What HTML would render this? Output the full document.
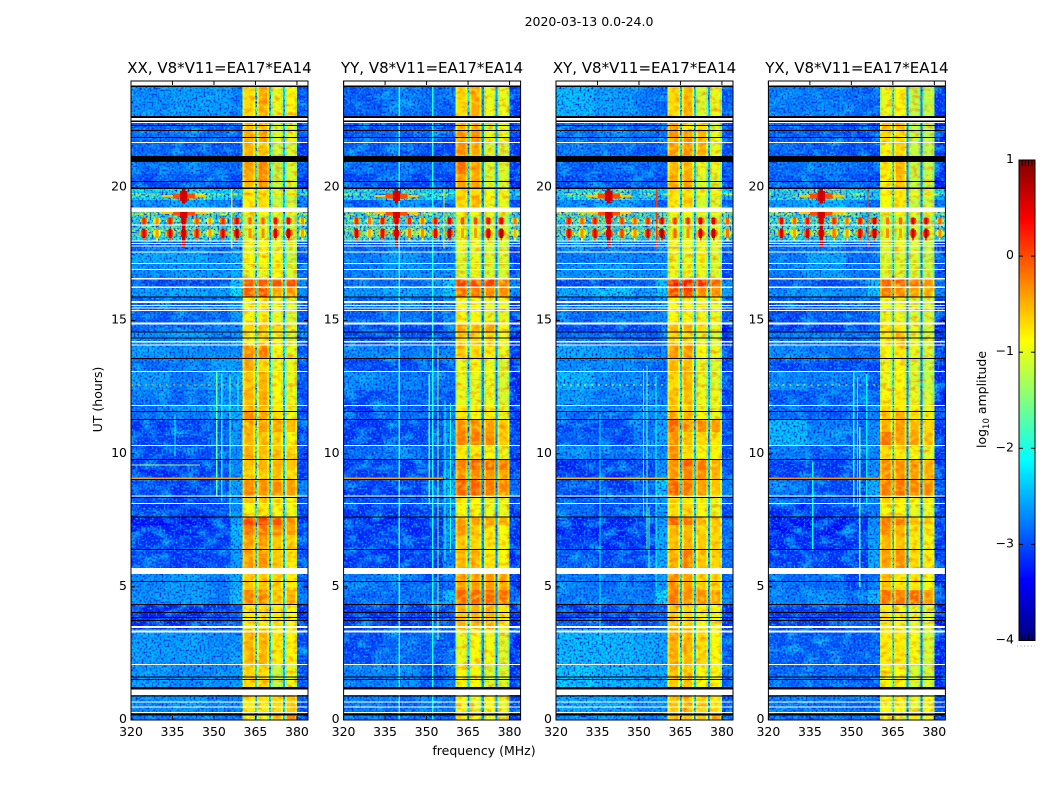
<!DOCTYPE html>
<html lang="en">
<head>
<meta charset="utf-8">
<title>2020-03-13 0.0-24.0</title>
<style>
html,body{margin:0;padding:0;background:#fff;}
svg{display:block;font-family:"DejaVu Sans","Liberation Sans",sans-serif;fill:#000;}
</style>
</head>
<body>
<svg id="chart" xmlns="http://www.w3.org/2000/svg" width="1050" height="800" viewBox="0 0 1050 800">
<defs>
<filter id="speckle-bg" x="0" y="0" width="1" height="1" color-interpolation-filters="sRGB">
<feTurbulence type="fractalNoise" baseFrequency="0.5" numOctaves="1" seed="4" result="noise"/>
<feColorMatrix in="noise" type="matrix" values="0 0 0 0 0  0 0 0 0 0.1  0 0 0 0 0.9  3.2 0 0 0 -1.45" result="dark0"/>
<feComposite in="dark0" in2="SourceAlpha" operator="in" result="dark"/>
<feColorMatrix in="noise" type="matrix" values="0 0 0 0 0.05  0 0 0 0 0.7  0 0 0 0 1  0 3.2 0 0 -1.6" result="light0"/>
<feComposite in="light0" in2="SourceAlpha" operator="in" result="light"/>
<feTurbulence type="fractalNoise" baseFrequency="0.07 0.11" numOctaves="2" seed="12" result="mottle"/>
<feColorMatrix in="mottle" type="matrix" values="0 0 0 0 0.05  0 0 0 0 0.75  0 0 0 0 1  2.6 0 0 0 -1.15" result="patch0"/>
<feComposite in="patch0" in2="SourceAlpha" operator="in" result="patch"/>
<feMerge><feMergeNode in="SourceGraphic"/><feMergeNode in="patch"/><feMergeNode in="dark"/><feMergeNode in="light"/></feMerge>
</filter>
<filter id="speckle-band" x="0" y="0" width="1" height="1" color-interpolation-filters="sRGB">
<feTurbulence type="fractalNoise" baseFrequency="0.16 0.24" numOctaves="2" seed="9" result="noise"/>
<feColorMatrix in="noise" type="matrix" values="0 0 0 0 1  0 0 0 0 0.95  0 0 0 0 0.1  1.8 0 0 0 -0.8" result="hi0"/>
<feComposite in="hi0" in2="SourceAlpha" operator="in" result="hi"/>
<feColorMatrix in="noise" type="matrix" values="0 0 0 0 1  0 0 0 0 0.35  0 0 0 0 0  0 1.5 0 0 -0.7" result="lo0"/>
<feComposite in="lo0" in2="SourceAlpha" operator="in" result="lo"/>
<feMerge><feMergeNode in="SourceGraphic"/><feMergeNode in="hi"/><feMergeNode in="lo"/></feMerge>
</filter>
<linearGradient id="colorbar-gradient" x1="0" y1="0" x2="0" y2="1"></linearGradient>
</defs>
<rect x="0" y="0" width="1050" height="800" fill="#fff"/>
<text x="589" y="26" text-anchor="middle" font-size="12.5">2020-03-13 0.0-24.0</text>
<text transform="translate(102,399.5) rotate(-90)" text-anchor="middle" font-size="12.5">UT (hours)</text>
<text x="484" y="755" text-anchor="middle" font-size="12.5">frequency (MHz)</text>
<text transform="translate(986,399.5) rotate(-90)" text-anchor="middle" font-size="12.5">log<tspan dy="3" font-size="8.5">10</tspan><tspan dy="-3"> amplitude</tspan></text>
<g id="panels"></g>
<g id="colorbar"></g>
</svg>
<script>
// ---------- shared axes data ----------
const xTicks = [320, 335, 350, 365, 380];
const yTicks = [0, 5, 10, 15, 20];
const colorbarTicks = [-4, -3, -2, -1, 0, 1];
const panelNames = ['XX', 'YY', 'XY', 'YX'];
const panelTitles = ['XX, V8*V11=EA17*EA14', 'YY, V8*V11=EA17*EA14', 'XY, V8*V11=EA17*EA14', 'YX, V8*V11=EA17*EA14'];

// ---------- heatmap bins (MHz, UT hours) ----------
const columnBins = [[320,334],[334,348],[348,356],[356,360.4],[360.4,364.8],[365.5,369.9],[370.7,375],[375.7,380],[380,384]];
const gapBins = [[364.8,365.5],[369.9,370.7],[375,375.7]];
const rowEdges = [23.77,22.69,22.16,21.67,21.07,20.50,19.94,19.79,19.70,19.53,19.17,18.97,18.61,18.45,18.18,17.97,17.56,17.16,16.56,16.28,15.87,14.91,14.57,14.08,13.56,13.08,12.39,11.79,11.57,11.27,10.82,10.29,9.77,9.39,9.01,8.41,8.11,7.63,7.33,6.95,6.38,5.60,4.88,4.36,3.41,2.10,1.05,0.19,0];

// ---------- log10 amplitude per row / column, one matrix per polarisation ----------
const levelsXX = [
[-2.5,-2.4,-2.4,-2.6,-.7,-.45,-1,-.9,-2.9],
[-2.8,-2.8,-2.8,-2.9,-.55,-.6,-1.1,-1.1,-3],
[-2.7,-2.7,-2.7,-2.8,-.45,-.45,-1.1,-1,-2.9],
[-2.7,-2.8,-2.8,-2.8,-.5,-.6,-1.2,-1.1,-3],
[-2.7,-2.6,-2.7,-2.7,-.35,-.25,-1.2,-1.1,-2.9],
[-2.9,-2.8,-2.8,-2.9,-.5,-.3,-1.2,-1.1,-3],
[-1.9,-1.7,-2,-2.1,-.9,-.8,-1.1,-1,-1.9],
[-1.1,-.9,-1.1,-1.2,-.6,-.6,-.9,-.6,-1],
[-1.8,-1.4,-1.9,-2.2,-.8,-.8,-1.2,-1.2,-2.4],
[-2.7,-2.3,-2.6,-2.8,-.8,-.7,-1.2,-1.2,-2.8],
[-1,-.8,-1.1,-1.2,-.9,-.9,-1,-1,-1.1],
[-1.6,-1.5,-1.6,-1.6,-1.2,-1.2,-1.2,-1.3,-1.7],
[-1.4,-1.3,-1.4,-1.4,-1.1,-1.1,-1.2,-1.2,-1.5],
[-1.3,-1.2,-1.3,-1.3,-1.1,-1,-1.1,-1.1,-1.4],
[-1.7,-1.6,-1.7,-1.6,-1.1,-1.1,-1.2,-1.2,-1.8],
[-2.8,-2.7,-2.7,-2.5,-1,-.9,-1,-1.1,-2.9],
[-2.3,-2.3,-2.5,-2.3,-.9,-.9,-.9,-1.2,-2.9],
[-2.5,-2.4,-2.4,-2.3,-1,-1,-.9,-1.1,-2.8],
[-2.9,-2.9,-2.8,-2.1,-.05,-.05,0,0,-2.5],
[-2.4,-2.3,-2.4,-2,-.05,0,-.4,-.4,-2.5],
[-2.8,-2.7,-2.7,-2.5,-.9,-.8,-1,-1.1,-2.8],
[-2.7,-2.7,-2.6,-2.5,-.7,-.6,-.7,-1,-2.9],
[-2.5,-2.4,-2.5,-2.5,-.9,-.8,-.9,-1.1,-2.8],
[-2.4,-2.5,-2.5,-2.5,-.3,-.2,-.9,-1,-2.8],
[-2.7,-2.6,-2.4,-2.4,-.4,-.7,-1,-1,-2.9],
[-2.4,-2.6,-2.4,-2.3,-.6,-.5,-.9,-1,-2.9],
[-2.6,-2.7,-2.5,-2.4,-.5,-.5,-.9,-1,-2.9],
[-2.7,-2.4,-2.2,-2.3,-.5,-.5,-.8,-1,-2.9],
[-2.7,-2.6,-2.5,-2.3,-.3,-.45,-.7,-.95,-2.9],
[-3,-2.9,-2.8,-2.5,-.45,-.4,-.45,-.5,-3],
[-2.9,-2.9,-2.7,-2.4,-.5,-.6,-.7,-.9,-3],
[-2.9,-2.9,-2.8,-2.5,-.5,-.55,-.6,-.7,-2.9],
[-3,-3,-2.9,-2.5,-.6,-.5,-.5,-.6,-3],
[-3.1,-3,-2.9,-2.5,-.7,-.6,-.6,-.7,-3],
[-2.9,-3,-2.9,-2.4,-.3,-.3,-.3,-.4,-2.6],
[-2.9,-3,-2.8,-2.5,-.6,-.6,-.8,-.9,-2.9],
[-3,-3,-2.9,-2.5,-.9,-.8,-.9,-.95,-2.9],
[-3.2,-3.2,-3,-2.3,.05,.1,0,-.35,-3],
[-3.1,-3.1,-3,-2.2,-.2,-.2,-.3,-.4,-2.9],
[-3,-3,-3,-2.3,-.4,-.4,-.6,-.7,-2.9],
[-2.9,-3,-2.9,-2.4,-.35,-.35,-.6,-.8,-2.9],
[-2.5,-2.4,-2.6,-2.3,-.6,-.6,-.7,-.8,-2.8],
[-2.5,-2.4,-2.6,-2.1,-.25,-.25,-.6,-.5,-2.6],
[-3.1,-3.1,-3,-2.8,-.8,-.8,-.8,-.9,-3.1],
[-2.4,-2.4,-2.5,-2.5,-.5,-.5,-.8,-.85,-2.9],
[-2.4,-2.5,-2.5,-2.4,-.7,-.7,-1.2,-1,-2.8],
[-2.5,-2.4,-2.6,-2.5,-.8,-.8,-.7,-.6,-2.8],
[-2.6,-2.5,-2.6,-2.6,-.9,-.9,-.6,-.3,-2.9]];
const levelsYY = [
[-2.8,-2.6,-2.7,-2.8,-.7,-.45,-1,-1,-3],
[-2.9,-2.9,-2.9,-2.9,-.5,-.5,-1.1,-1,-3],
[-2.8,-2.8,-2.8,-2.9,-.3,-.35,-1,-1,-3],
[-2.8,-2.8,-2.9,-2.9,-.3,-.45,-1.1,-1.1,-3],
[-2.7,-2.7,-2.8,-2.8,-.15,-.4,-1.1,-1.1,-3],
[-2.9,-2.9,-2.9,-2.9,-.4,-.45,-1.1,-1.1,-3.1],
[-1.7,-1.5,-1.9,-2,-.7,-.7,-1,-1,-2.1],
[-1.2,-.9,-1.2,-1.1,-.7,-.7,-.9,-.8,-1.2],
[-1.7,-1.3,-1.8,-2.1,-.6,-.5,-.9,-1,-2.4],
[-2.8,-2.4,-2.6,-2.8,-.7,-.6,-1,-1,-2.9],
[-.9,-.6,-1,-1.1,-.9,-.9,-1,-1,-1.1],
[-1.5,-1.4,-1.6,-1.6,-1.1,-1.2,-1.2,-1.3,-1.7],
[-1.3,-1.3,-1.4,-1.4,-1,-1.1,-1.1,-1.2,-1.4],
[-1.2,-1,-1.3,-1.2,-.9,-.9,-1,-1,-1.3],
[-1.5,-1.4,-1.6,-1.5,-1,-1,-1.1,-1.1,-1.7],
[-2.8,-2.7,-2.8,-2.6,-1,-1,-1.1,-1.1,-3],
[-2.6,-2.4,-2.6,-2.6,-1.1,-1,-1.1,-1.1,-3],
[-2.6,-2.4,-2.5,-2.6,-1.1,-1,-1.1,-1.1,-3],
[-2.7,-2.7,-2.6,-2.1,.1,.1,.1,-.2,-2.5],
[-2.4,-2.3,-2.4,-2.1,-.1,-.2,-.3,-.3,-2.5],
[-2.8,-2.6,-2.8,-2.6,-.9,-.9,-1,-1,-3],
[-2.9,-2.9,-2.9,-2.7,-.4,-.5,-.4,-.9,-3.1],
[-2.9,-2.8,-2.9,-2.8,-.7,-.7,-.7,-.95,-3.1],
[-2.5,-2.6,-2.6,-2.5,-.6,-.7,-.8,-1,-3],
[-2.9,-2.9,-2.9,-2.8,-1,-.9,-1,-1.1,-3.1],
[-2.5,-2.6,-2.7,-2.7,-1,-1,-1,-1.1,-3.1],
[-2.9,-2.8,-2.8,-2.8,-1,-1,-1,-1.1,-3.1],
[-3,-2.7,-2.8,-2.6,-.8,-.9,-.8,-1,-3.1],
[-2.9,-2.7,-2.9,-2.7,-.8,-.9,-.8,-1,-3],
[-3,-2.9,-2.9,-2.5,-.3,-.3,-.4,-.6,-3],
[-3,-2.9,-2.9,-2.4,-.2,-.2,-.3,-.6,-3],
[-2.7,-2.6,-2.8,-2.6,-.8,-.8,-.9,-1,-3],
[-3,-3,-2.9,-2.6,-.2,-.05,-.1,-.2,-3],
[-3,-3,-2.9,-2.5,-.35,-.3,-.35,-.45,-3],
[-3,-3,-2.8,-2.2,-.05,-.05,-.2,-.25,-2.7],
[-2.9,-2.9,-2.8,-2.4,-.8,-.9,-1,-1,-3],
[-3,-3,-2.9,-2.5,-.9,-.9,-1,-1,-3],
[-3.1,-3.1,-3,-2.5,-.4,-.4,-.4,-.5,-3],
[-3,-3.1,-3,-2.3,-.3,-.6,-.8,-.9,-3],
[-3,-3,-3,-2.5,-.6,-.7,-.8,-.9,-3.1],
[-3,-3,-3,-2.6,-.5,-.5,-.8,-.9,-3.1],
[-2.6,-2.7,-2.9,-2.7,-.4,-.4,-.4,-.45,-3],
[-2.7,-2.7,-2.7,-2.2,-.1,-.1,-.1,-.15,-2.7],
[-3,-3,-3,-2.8,-.5,-.5,-.5,-.8,-3.1],
[-2.9,-2.7,-2.8,-2.8,-1,-.9,-.95,-1.1,-3.1],
[-2.6,-2.5,-2.8,-2.7,-.9,-.9,-1.1,-1.1,-3],
[-2.6,-2.7,-2.6,-2.6,-.9,-1,-.9,-1,-3],
[-2.6,-2.7,-2.7,-2.7,-.8,-.9,-1,-1,-3]];
const levelsXY = [
[-2.2,-2.4,-2.6,-2.7,-.7,-.5,-1.1,-1,-2.8],
[-2.7,-2.7,-2.8,-2.9,-.4,-.8,-.7,-1.1,-2.9],
[-2.7,-2.6,-2.7,-2.8,-.35,-.35,-.5,-1,-2.9],
[-2.6,-2.7,-2.8,-2.8,-.4,-.35,-.5,-1,-2.9],
[-2.8,-2.7,-2.7,-2.8,-.5,-.5,-1,-1,-2.9],
[-2.9,-2.8,-2.8,-2.9,-.5,-.4,-1.1,-1.1,-3],
[-1.7,-1.4,-1.8,-2,-.7,-.7,-1,-1,-1.9],
[-1,-.8,-1,-1.1,-.8,-.8,-.9,-.8,-1],
[-1.8,-1.3,-1.8,-2.2,-.8,-.7,-1.1,-1.1,-2.3],
[-2.7,-2.3,-2.6,-2.8,-.8,-.7,-1.1,-1.1,-2.8],
[-1,-.8,-1,-1.1,-.9,-.9,-1,-1,-1.1],
[-1.5,-1.4,-1.5,-1.5,-1.2,-1.1,-1.2,-1.2,-1.6],
[-1.3,-1.2,-1.4,-1.3,-1.1,-1.1,-1.1,-1.1,-1.4],
[-1.2,-1.1,-1.2,-1.2,-1,-1,-1,-1,-1.3],
[-1.6,-1.5,-1.6,-1.5,-1,-1,-1.1,-1.1,-1.7],
[-2.5,-2.6,-2.7,-2.6,-1,-1,-1,-1.1,-2.9],
[-2.6,-2.5,-2.6,-2.5,-1,-1,-.9,-1.1,-2.9],
[-2.5,-2.4,-2.5,-2.5,-1,-1,-1,-1.1,-2.9],
[-2.9,-2.9,-2.8,-2.2,.3,.3,.2,-.1,-2.5],
[-2.3,-2.1,-2.4,-2.1,.05,.1,-.3,-.3,-2.4],
[-2.7,-2.6,-2.6,-2.5,-.9,-.9,-.95,-1,-2.8],
[-2.9,-2.9,-2.9,-2.8,-.55,-.5,-.7,-1,-3.2],
[-2.7,-2.7,-2.8,-2.8,-.7,-.7,-1,-1.1,-3],
[-2.3,-2.4,-2.6,-2.7,-.35,-.35,-.9,-1,-2.9],
[-2.5,-2.5,-2.7,-2.7,-.5,-.55,-1,-1.1,-3],
[-2.2,-2.5,-2.6,-2.7,-.7,-.5,-1,-1.1,-3],
[-2.4,-2.6,-2.6,-2.6,-.6,-.55,-1,-1,-3],
[-2.5,-2.6,-2.4,-2.4,-.6,-.7,-1,-1,-2.9],
[-2.7,-2.7,-2.5,-2.5,-.4,-.5,-.9,-1,-2.9],
[-2.9,-2.9,-2.6,-2.4,-.1,-.3,-.3,-.4,-2.9],
[-2.8,-2.9,-2.6,-2.4,-.3,-.6,-.7,-.8,-2.9],
[-2.5,-2.7,-2.6,-2.5,-.3,-.7,-.9,-.9,-2.9],
[-3.1,-3,-2.9,-2.5,-.3,-.05,-.2,-.5,-2.9],
[-3,-3,-2.9,-2.5,-.35,-.25,-.3,-.5,-2.9],
[-2.9,-3,-2.7,-2.1,-.05,-.15,-.4,-.6,-2.6],
[-2.8,-2.8,-2.7,-2.5,-.7,-.8,-.9,-1,-2.9],
[-2.7,-2.9,-2.8,-2.4,-.7,-.7,-.9,-1,-2.9],
[-3.1,-3.1,-3,-2.5,-.1,-.2,-.5,-.6,-2.8],
[-3.1,-3.1,-3,-2.3,-.5,-.5,-.7,-.7,-2.7],
[-3,-3.1,-3,-2.3,-.6,-.5,-.6,-.7,-2.7],
[-2.8,-2.9,-2.9,-2.3,-.5,-.2,-.6,-.7,-2.7],
[-2.6,-2.7,-2.7,-2.4,-.3,-.4,-.7,-.7,-2.8],
[-2.6,-2.6,-2.6,-2,-.2,-.3,-.3,-.4,-2.5],
[-3,-3,-2.9,-2.7,-.6,-.7,-.9,-.9,-3.1],
[-2.2,-2.2,-2.3,-2.4,-.45,-.5,-.7,-.9,-2.8],
[-2.1,-2.2,-2.3,-2.3,-.6,-.6,-.9,-.9,-2.8],
[-2.3,-2.3,-2.5,-2.4,-.6,-.5,-.7,-.8,-2.8],
[-2.5,-2.4,-2.6,-2.5,-.5,-.6,-.6,-.5,-2.8]];
const levelsYX = [
[-2.6,-2.6,-2.7,-2.8,-1,-.9,-1.2,-1.2,-3],
[-2.8,-2.9,-2.9,-2.9,-.6,-.6,-1.2,-1.2,-3.1],
[-2.8,-2.8,-2.9,-2.9,-.7,-.7,-1.2,-1.2,-3.1],
[-2.8,-2.8,-2.9,-2.9,-.9,-.7,-1.2,-1.2,-3.1],
[-2.7,-2.6,-2.7,-2.8,-.8,-.5,-1.2,-1.2,-3.1],
[-2.8,-2.8,-2.8,-2.9,-.9,-.55,-1.2,-1.2,-3.1],
[-1.6,-1.3,-1.8,-2,-.9,-.8,-1.1,-1.1,-1.8],
[-1.1,-.7,-1.2,-1.1,-.8,-.8,-.9,-.7,-1],
[-1.6,-1.2,-1.7,-2.1,-.9,-.8,-1.1,-1.1,-2.3],
[-2.4,-2.2,-2.5,-2.7,-.9,-.8,-1.2,-1.2,-2.8],
[-1,-.7,-1.1,-1.1,-1,-.9,-1,-1,-1.1],
[-1.6,-1.5,-1.6,-1.6,-1.2,-1.2,-1.2,-1.3,-1.7],
[-1.4,-1.3,-1.4,-1.4,-1.1,-1.1,-1.2,-1.2,-1.5],
[-1.2,-1.1,-1.2,-1.2,-1,-1,-1.1,-1,-1.3],
[-1.7,-1.5,-1.7,-1.6,-1.1,-1.1,-1.2,-1.2,-1.8],
[-2.7,-2.6,-2.8,-2.7,-1.1,-1,-1.1,-1.2,-3],
[-2.6,-2.3,-2.7,-2.7,-1.1,-1.1,-1.1,-1.2,-3],
[-2.6,-2.4,-2.6,-2.6,-1.1,-1.1,-1.1,-1.2,-3],
[-2.8,-2.9,-2.8,-2.2,-.1,-.05,-.2,-.35,-2.6],
[-2.5,-2.4,-2.5,-2.1,-.2,-.3,-.4,-.5,-2.6],
[-2.9,-2.8,-2.8,-2.7,-1,-1,-1.1,-1.1,-3.1],
[-3,-3,-2.9,-2.8,-.8,-.8,-1,-1.1,-3.2],
[-2.6,-2.6,-2.7,-2.7,-.8,-.6,-1,-1.1,-3.1],
[-2.5,-2.6,-2.7,-2.7,-.9,-.8,-1,-1.1,-3],
[-2.9,-2.9,-2.9,-2.9,-1,-.9,-1.1,-1.2,-3.1],
[-2.5,-2.6,-2.6,-2.8,-1,-.9,-1.1,-1.2,-3.1],
[-2.8,-2.8,-2.7,-2.7,-.9,-.8,-1,-1.1,-3.1],
[-2.7,-2.8,-2.8,-2.6,-.7,-.8,-.9,-1,-3],
[-2.7,-2.8,-2.7,-2.6,-.6,-.5,-.7,-.9,-3],
[-2.2,-2.6,-2.7,-2.5,-.5,-.4,-.5,-.7,-3],
[-2.2,-2.5,-2.7,-2.5,-.15,-.4,-.4,-.6,-3],
[-2.7,-2.8,-2.8,-2.6,-.7,-.8,-.9,-1,-3],
[-3,-3,-2.9,-2.5,-.25,-.3,-.3,-.45,-3],
[-3,-3,-2.9,-2.5,-.35,-.35,-.4,-.5,-3],
[-2.6,-2.9,-2.9,-2.3,-.2,-.15,-.25,-.3,-2.8],
[-2.8,-2.9,-2.9,-2.5,-.6,-.8,-.9,-.9,-3],
[-3.1,-3,-2.9,-2.6,-.9,-.9,-1,-1,-3],
[-3.2,-3.2,-3.1,-2.5,-.2,-.2,-.6,-.7,-3],
[-3.2,-3.2,-3,-2.5,-.3,-.5,-.8,-.8,-3],
[-3.1,-3.1,-3,-2.4,-.5,-.6,-.8,-.9,-3],
[-3,-3,-3,-2.3,-.4,-.3,-.7,-.8,-3],
[-2.7,-2.7,-2.9,-2.7,-.6,-.8,-.8,-.9,-3],
[-2.6,-2.5,-2.7,-2.2,-.15,-.2,-.1,-.4,-2.8],
[-3,-3,-3,-2.9,-.8,-.9,-1,-1,-3.2],
[-2.8,-2.8,-2.8,-2.8,-.8,-.8,-.9,-1.1,-3.1],
[-2.7,-2.7,-2.8,-2.8,-.9,-.9,-1.1,-1.1,-3.1],
[-2.6,-2.6,-2.7,-2.7,-.9,-.9,-1,-.9,-3],
[-2.7,-2.7,-2.7,-2.7,-.9,-1,-.8,-.9,-3]];

// ---------- sub-band gaps per polarisation ----------
const gapLevelsXX = [-1.5, -2.0, -2.2];
const gapLevelsYY = [-2.0, -2.6, -2.6];
const gapLevelsXY = [-1.9, -2.2, -2.3];
const gapLevelsYX = [-1.9, -2.6, -2.7];

// ---------- flagged time ranges (UT hours): white = no data, black = zero ----------
const whiteFlags = [[24,23.83],[22.61,22.52],[22.46,22.42],[21.71,21.67],[19.25,19.08],[18.61,18.57],[18.01,17.97],[17.92,17.88],[17.82,17.78],[17.59,17.56],[17.16,17.13],[16.94,16.90],[16.60,16.54],[16.28,16.23],[15.74,15.66],[15.59,15.55],[15.49,15.46],[15.40,15.36],[14.93,14.85],[14.23,14.18],[14.10,14.07],[13.11,13.07],[11.83,11.79],[10.33,10.29],[8.43,8.39],[8.15,8.11],[5.71,5.48],[3.53,3.46],[3.36,3.29],[2.10,2.07],[1.15,0.94],[0.69,0.66],[0.51,0.47],[0.30,0.26]];
const blackFlags = [[23.83,23.77],[22.69,22.61],[22.52,22.46],[22.35,22.31],[22.16,22.12],[21.90,21.86],[21.18,20.96],[20.24,20.21],[20.00,19.94],[15.91,15.87],[14.59,14.55],[14.37,14.33],[13.60,13.56],[11.61,11.57],[11.31,11.27],[9.80,9.77],[9.05,9.01],[8.38,8.34],[7.64,7.61],[6.42,6.38],[5.22,5.18],[4.36,4.32],[4.06,4.02],[3.87,3.83],[3.76,3.72],[1.63,1.60],[1.54,1.50],[1.24,1.15],[0.92,0.88],[0.24,0.17]];

// ---------- narrow-band RFI: [MHz, UT start, UT end, level] ----------
const spikesXX = [[356.4,20,17.7,-.7],[351,13.1,8.4,-1.6],[352.8,13,8.2,-2.1],[355.8,13,7.6,-1.7],[358.7,12.9,11.6,-1.9],[335.9,11.5,9.9,-2.1]];
const spikesYY = [[340.1,24,0,-1.9],[352.2,24,0,-2],[351,13,8.1,-1.8],[356.7,12,6,-2],[358.7,11.9,6.3,-1.9],[354.1,14,3,-1.4],[356.3,20,17.7,-.8]];
const spikesXY = [[351.6,13.2,7.6,-2],[352.9,13.3,6.4,-1.6],[353.6,8,5.5,-1.8],[356.2,12.9,5,-2],[335.9,11.5,3,-2.2],[356.4,20,17.7,.1]];
const spikesYX = [[350.9,13.1,8,-1.9],[353,11,5,-1.6],[352.2,12.9,8,-2.1],[355.6,13,8.1,-2.2],[336,9.7,6.4,-2.1],[356,20,17.7,.1]];

// ---------- broad-band RFI lines: [UT hour, level, MHz start, MHz end] ----------
const linesXX = [[9.08,-.4,320,360],[9.58,-1.3,320,345]];
const linesYY = [[9.08,-.4,320,356]];
const linesXY = [[9.08,-.5,320,360]];
const linesYX = [[9.08,-.3,320,360]];

// ---------- dotted RFI lines: [UT hour, level] ----------
const dottedXX = [[12.58,-.5]];
const dottedYY = [];
const dottedXY = [[12.58,-.9]];
const dottedYX = [[12.58,-.9]];

// ---------- RFI comb between 17.9 and 19.1 UT ----------
const combFreqs = [324.7,329.4,334.1,339.1,343.8,348.5,353.2,358.3,363,367.7,372.3,377,382];
const combHours = [18.75, 18.28];
const combTailEndHour = 17.97;
const combUpperXX = [.2,-.3,.3,.8,0,-.4,.2,.5,-.1,-.1,.3,.4,-.3];
const combLowerXX = [.5,-.4,.5,.8,.3,-.4,.5,.7,-.3,-.3,.5,.7,-.4];
const combUpperYY = [.2,-.2,.3,.8,.2,-.2,.3,.5,0,0,.3,.4,-.2];
const combLowerYY = [.5,-.5,.4,.9,-.2,-.3,.4,.7,-.4,-.4,.5,.7,-.5];
const combUpperXY = [.3,-.1,.3,.8,.1,-.1,.2,.5,.1,.2,.5,.5,-.1];
const combLowerXY = [.5,-.3,.5,.9,.1,-.3,.5,.8,-.1,-.3,.6,.7,-.2];
const combUpperYX = [.4,-.1,.3,.8,.2,-.2,.3,.6,-.2,-.1,.5,.5,-.1];
const combLowerYX = [.5,-.4,.5,.9,-.2,-.4,.5,.7,-.3,-.4,.6,.7,-.3];
const mainPeakFreq = 339.1;
const mainPeakSpans = [[19.95,19.4,.65],[19.08,17.75,.6]];
const mainPeakBursts = [[19.68,.5],[19.04,.5]];

const allLevels = [levelsXX, levelsYY, levelsXY, levelsYX];
const allGaps = [gapLevelsXX, gapLevelsYY, gapLevelsXY, gapLevelsYX];
const allSpikes = [spikesXX, spikesYY, spikesXY, spikesYX];
const allLines = [linesXX, linesYY, linesXY, linesYX];
const allDotted = [dottedXX, dottedYY, dottedXY, dottedYX];
const allCombUpper = [combUpperXX, combUpperYY, combUpperXY, combUpperYX];
const allCombLower = [combLowerXX, combLowerYY, combLowerXY, combLowerYX];

// ---------- layout and scales ----------
const SVGNS = 'http://www.w3.org/2000/svg';
const plotLefts = [131, 343.6, 556, 768.4];
const plotWidth = 177, plotTop = 81, plotBottom = 720;
const fMin = 320, fMax = 384, hMax = 24;
const backgroundCalibration = -0.15;
const hY = h => plotBottom - (h / hMax) * (plotBottom - plotTop);
const fX = (f, left) => left + (f - fMin) / (fMax - fMin) * plotWidth;
const clamp = v => Math.max(0, Math.min(1, v));
function jet(t) {
  const r = clamp(Math.min(4 * t - 1.5, -4 * t + 4.5));
  const g = clamp(Math.min(4 * t - 0.5, -4 * t + 3.5));
  const b = clamp(Math.min(4 * t + 0.5, -4 * t + 2.5));
  return 'rgb(' + Math.round(r * 255) + ',' + Math.round(g * 255) + ',' + Math.round(b * 255) + ')';
}
const levelColor = v => jet((Math.max(-4, Math.min(1, v)) + 4) / 5);

function make(parent, tag, attrs) {
  const el = document.createElementNS(SVGNS, tag);
  for (const k in attrs) el.setAttribute(k, attrs[k]);
  parent.appendChild(el);
  return el;
}
function band(parent, left, f0, f1, hTop, hBot, fill, name) {
  const x0 = fX(f0, left), x1 = fX(f1, left), y0 = hY(hTop), y1 = hY(hBot);
  const el = make(parent, 'rect', {x: x0, y: y0, width: x1 - x0, height: y1 - y0, fill: fill, 'shape-rendering': 'crispEdges'});
  
  
  return el;
}
function blob(parent, left, f, h, level, hh, name) {
  const lo = Math.max(fMin, f - 1.5), hi = Math.min(fMax, f + 1.5);
  band(parent, left, lo, hi, h + hh * 0.45, h - hh * 0.45, levelColor(level - 1.0), name);
  band(parent, left, Math.max(fMin, f - 1), Math.min(fMax, f + 1), h + hh * 0.8, h - hh * 0.8, levelColor(level - 0.5), name);
  band(parent, left, f - 0.55, f + 0.55, h + hh * 1.1, h - hh * 1.1, levelColor(level), name);
}

const panelsRoot = document.getElementById('panels');
const bandEdgeDrop = 0.35;

panelNames.forEach(function (pol, p) {
  const left = plotLefts[p];
  const levels = allLevels[p];
  const g = make(panelsRoot, 'g', {});
  
  

  const title = make(g, 'text', {x: left + plotWidth / 2, y: 73, 'text-anchor': 'middle', 'font-size': 15});
  
  
  title.textContent = panelTitles[p];

  band(g, left, fMin, fMax, hMax, 0, '#fff', 'plot-background');

  const bgGroup = make(g, 'g', {filter: 'url(#speckle-bg)'});
  
  
  const bandGroup = make(g, 'g', {filter: 'url(#speckle-band)'});
  
  

  levels.forEach(function (row, r) {
    const hTop = rowEdges[r], hBot = rowEdges[r + 1];
    row.forEach(function (value, c) {
      const bin = columnBins[c];
      const isBand = c >= 4 && c <= 7;
      const parent = isBand ? bandGroup : bgGroup;
      const shown = isBand ? value : value + backgroundCalibration;
      band(parent, left, bin[0], bin[1], hTop, hBot, levelColor(shown), 'heatmap-cell');
      if (isBand) {
        band(parent, left, bin[0], bin[0] + 0.7, hTop, hBot, levelColor(value - bandEdgeDrop), 'heatmap-cell-edge');
        band(parent, left, bin[1] - 0.7, bin[1], hTop, hBot, levelColor(value - bandEdgeDrop), 'heatmap-cell-edge');
      }
    });
    gapBins.forEach(function (bin, k) {
      band(bgGroup, left, bin[0], bin[1], hTop, hBot, levelColor(allGaps[p][k]), 'heatmap-gap-cell');
    });
  });

  allSpikes[p].forEach(function (s) {
    band(g, left, s[0] - 0.22, s[0] + 0.22, s[1], s[2], levelColor(s[3]), 'rfi-spike');
  });
  allLines[p].forEach(function (l) {
    band(g, left, l[2], l[3], l[0] + 0.02, l[0] - 0.02, levelColor(l[1]), 'rfi-line');
  });
  allDotted[p].forEach(function (d) {
    const dotted = make(g, 'line', {x1: left, x2: fX(360, left), y1: hY(d[0]), y2: hY(d[0]), stroke: levelColor(d[1]), 'stroke-width': 1, 'stroke-dasharray': '2 5'});
    
    
  });

  combFreqs.forEach(function (f, i) {
    const lower = allCombLower[p][i];
    band(g, left, f - 0.3, f + 0.3, combHours[1], combTailEndHour, levelColor(lower - 0.6), 'comb-peak-tail');
    blob(g, left, f, combHours[0], allCombUpper[p][i], 0.12, 'comb-peak-upper');
    blob(g, left, f, combHours[1], lower, 0.16, 'comb-peak-lower');
  });
  mainPeakBursts.forEach(function (b) {
    band(g, left, mainPeakFreq - 8, mainPeakFreq + 8, b[0] + 0.04, b[0] - 0.04, levelColor(b[1] - 1.1), 'main-peak-burst');
    band(g, left, mainPeakFreq - 4, mainPeakFreq + 4, b[0] + 0.09, b[0] - 0.09, levelColor(b[1] - 0.5), 'main-peak-burst');
    band(g, left, mainPeakFreq - 1.3, mainPeakFreq + 1.3, b[0] + 0.18, b[0] - 0.18, levelColor(b[1]), 'main-peak-burst');
  });
  mainPeakSpans.forEach(function (s) {
    band(g, left, mainPeakFreq - 0.6, mainPeakFreq + 0.6, s[0], s[1], levelColor(s[2]), 'main-peak-column');
  });

  whiteFlags.forEach(function (w) {
    band(g, left, fMin, fMax, w[0], w[1], '#fff', 'flag-white');
  });
  blackFlags.forEach(function (k) {
    band(g, left, fMin, fMax, k[0], k[1], '#000', 'flag-black');
  });

  const frame = make(g, 'rect', {x: left, y: plotTop, width: plotWidth, height: plotBottom - plotTop, fill: 'none', stroke: '#000', 'stroke-width': 1});
  
  

  xTicks.forEach(function (f) {
    const x = fX(f, left);
    const t1 = make(g, 'line', {x1: x, x2: x, y1: plotBottom, y2: plotBottom - 4, stroke: '#000', 'stroke-width': 1});
    
    
    const t2 = make(g, 'line', {x1: x, x2: x, y1: plotTop, y2: plotTop + 4, stroke: '#000', 'stroke-width': 1});
    
    
    const lab = make(g, 'text', {x: x, y: 736, 'text-anchor': 'middle', 'font-size': 12.5});
    
    
    lab.textContent = f;
  });
  yTicks.forEach(function (h) {
    const y = hY(h);
    const t1 = make(g, 'line', {x1: left, x2: left + 4, y1: y, y2: y, stroke: '#000', 'stroke-width': 1});
    
    
    const t2 = make(g, 'line', {x1: left + plotWidth, x2: left + plotWidth - 4, y1: y, y2: y, stroke: '#000', 'stroke-width': 1});
    
    
    const lab = make(g, 'text', {x: left - 4, y: y + 3, 'text-anchor': 'end', 'font-size': 12.5});
    
    
    lab.textContent = h;
  });
});

// ---------- colorbar ----------
const cbLeft = 1019, cbRight = 1035, cbTop = 160, cbBottom = 640.5;
const cbY = v => cbBottom - (v + 4) / 5 * (cbBottom - cbTop);
const gradient = document.getElementById('colorbar-gradient');
for (let i = 0; i <= 40; i++) {
  make(gradient, 'stop', {offset: i / 40, 'stop-color': jet(1 - i / 40)});
}
const cbRoot = document.getElementById('colorbar');
const cbBar = make(cbRoot, 'rect', {x: cbLeft, y: cbTop, width: cbRight - cbLeft, height: cbBottom - cbTop, fill: 'url(#colorbar-gradient)', stroke: '#000', 'stroke-width': 1});


colorbarTicks.forEach(function (v) {
  const y = cbY(v);
  const t1 = make(cbRoot, 'line', {x1: cbLeft, x2: cbLeft + 4, y1: y, y2: y, stroke: '#000'});
  
  
  const t2 = make(cbRoot, 'line', {x1: cbRight, x2: cbRight - 4, y1: y, y2: y, stroke: '#000'});
  
  
  const lab = make(cbRoot, 'text', {x: cbLeft - 5, y: y + 3, 'text-anchor': 'end', 'font-size': 12.5});
  
  
  lab.textContent = String(v).replace('-', '\u2212');
});
[0.2, 0.4, 0.6, 0.8].forEach(function (frac) {
  const x = cbLeft + frac * (cbRight - cbLeft);
  const top = make(cbRoot, 'line', {x1: x, x2: x, y1: cbTop, y2: cbTop + 6, stroke: '#000'});
  
  
  const bottom = make(cbRoot, 'line', {x1: x, x2: x, y1: cbBottom, y2: cbBottom - 6, stroke: '#000'});
  
  
});
const dots = make(cbRoot, 'line', {x1: 1017, x2: 1035, y1: 646, y2: 646, stroke: '#999', 'stroke-width': 1, 'stroke-dasharray': '1 2.5'});


</script>
</body>
</html>
